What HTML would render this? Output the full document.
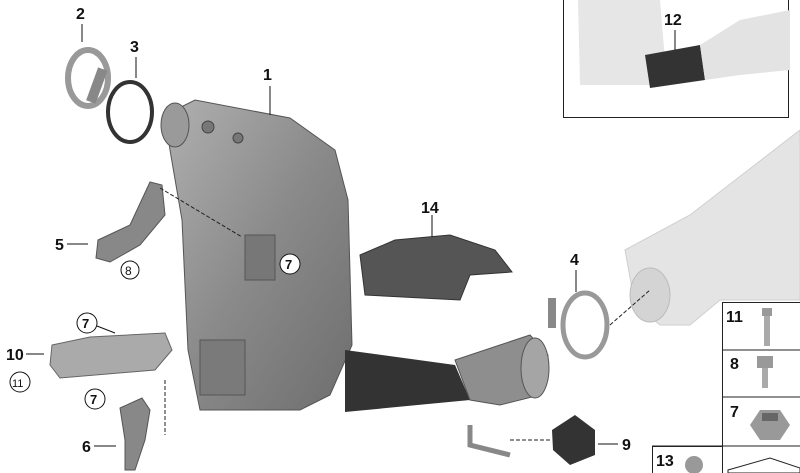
<!DOCTYPE html><html><head><style>body{margin:0;background:#fff}svg{display:block}text{font-family:"Liberation Sans",sans-serif;font-weight:bold;fill:#111}</style></head><body>
<svg width="800" height="473" viewBox="0 0 800 473" xmlns="http://www.w3.org/2000/svg">
<defs><linearGradient id="g1" x1="0" y1="0" x2="1" y2="1"><stop offset="0" stop-color="#b0b0b0"/><stop offset=".5" stop-color="#8a8a8a"/><stop offset="1" stop-color="#6e6e6e"/></linearGradient></defs>
<!-- muffler -->
<path d="M625 250 L690 215 L800 130 L800 300 L720 300 L690 325 L660 325 L635 305 Z" fill="#e4e4e4" stroke="#cfcfcf"/>
<ellipse cx="650" cy="295" rx="20" ry="27" fill="#d4d4d4" stroke="#bbb"/>
<!-- inset -->
<rect x="563.5" y="-1" width="225" height="118.5" fill="#fff" stroke="#222"/>
<path d="M578 0 L660 0 L665 60 L650 85 L580 85 Z" fill="#e6e6e6"/>
<path d="M645 55 L700 45 L705 80 L650 88 Z" fill="#333"/>
<path d="M700 45 L740 20 L790 10 L790 70 L740 75 L705 80 Z" fill="#e3e3e3"/>
<line x1="675" y1="30" x2="675" y2="50" stroke="#111"/>
<text x="664" y="25" font-size="16">12</text>
<!-- main body -->
<path d="M165 115 L195 100 L290 118 L335 150 L348 200 L352 345 L330 395 L300 410 L200 410 L188 350 L182 220 L170 150 Z" fill="url(#g1)" stroke="#555"/>
<ellipse cx="175" cy="125" rx="14" ry="22" fill="#9a9a9a" stroke="#555"/>
<circle cx="208" cy="127" r="6" fill="#777" stroke="#444"/><circle cx="238" cy="138" r="5" fill="#777" stroke="#444"/>
<rect x="245" y="235" width="30" height="45" fill="#777" stroke="#555"/>
<rect x="200" y="340" width="45" height="55" fill="#7a7a7a" stroke="#555"/>
<!-- pipe -->
<path d="M345 350 L455 365 L470 400 L345 412 Z" fill="#333"/>
<path d="M455 360 L500 345 L530 335 L548 355 L540 395 L500 405 L470 400 Z" fill="#8e8e8e" stroke="#555"/>
<ellipse cx="535" cy="368" rx="14" ry="30" fill="#a5a5a5" stroke="#555"/>
<path d="M470 425 L470 445 L510 455" stroke="#888" stroke-width="5" fill="none"/>
<!-- 14 shield -->
<path d="M360 255 L395 240 L450 235 L495 250 L512 272 L470 275 L460 300 L365 295 Z" fill="#555" stroke="#333"/>
<line x1="432" y1="215" x2="432" y2="237" stroke="#111"/><text x="421" y="213" font-size="16">14</text>
<!-- clamp 2,3 -->
<ellipse cx="88" cy="78" rx="20" ry="28" fill="none" stroke="#999" stroke-width="6"/>
<rect x="92" y="68" width="10" height="35" fill="#888" transform="rotate(20 97 85)"/>
<ellipse cx="130" cy="112" rx="22" ry="30" fill="none" stroke="#333" stroke-width="4"/>
<text x="76" y="19" font-size="16">2</text><line x1="82" y1="24" x2="82" y2="42" stroke="#111"/>
<text x="130" y="52" font-size="16">3</text><line x1="136" y1="57" x2="136" y2="78" stroke="#111"/>
<text x="263" y="80" font-size="16">1</text><line x1="270" y1="86" x2="270" y2="115" stroke="#111"/>
<!-- bracket 5 -->
<path d="M150 182 L162 185 L165 215 L140 245 L110 262 L96 258 L98 240 L130 225 Z" fill="#888" stroke="#555"/>
<text x="55" y="250" font-size="16">5</text><line x1="67" y1="244" x2="88" y2="244" stroke="#111"/>
<circle cx="130" cy="270" r="9" fill="#fff" stroke="#111"/><text x="125" y="275" font-size="12" style="font-weight:normal">8</text>
<line x1="160" y1="188" x2="242" y2="237" stroke="#222" stroke-dasharray="4 2"/>
<circle cx="290" cy="264" r="10" fill="#fff" stroke="#111"/><text x="285" y="269" font-size="13">7</text>
<!-- 10 cover -->
<path d="M52 345 L90 337 L165 333 L172 350 L155 370 L60 378 L50 365 Z" fill="#aaa" stroke="#666"/>
<text x="6" y="360" font-size="16">10</text><line x1="26" y1="354" x2="44" y2="354" stroke="#111"/>
<circle cx="20" cy="382" r="10" fill="#fff" stroke="#111"/><text x="12" y="387" font-size="11" style="font-weight:normal">11</text>
<circle cx="87" cy="323" r="10" fill="#fff" stroke="#111"/><text x="82" y="328" font-size="13">7</text>
<line x1="97" y1="326" x2="115" y2="333" stroke="#111"/>
<line x1="165" y1="380" x2="165" y2="435" stroke="#222" stroke-dasharray="4 2"/>
<!-- bracket 6 -->
<path d="M120 408 L142 398 L150 410 L145 440 L135 470 L125 470 L125 440 Z" fill="#888" stroke="#555"/>
<circle cx="95" cy="399" r="10" fill="#fff" stroke="#111"/><text x="90" y="404" font-size="13">7</text>
<text x="82" y="452" font-size="16">6</text><line x1="94" y1="446" x2="116" y2="446" stroke="#111"/>
<!-- 4 clamp -->
<ellipse cx="585" cy="325" rx="22" ry="32" fill="none" stroke="#999" stroke-width="5"/>
<rect x="548" y="298" width="8" height="30" fill="#888"/>
<text x="570" y="265" font-size="16">4</text><line x1="576" y1="270" x2="576" y2="292" stroke="#111"/>
<line x1="610" y1="325" x2="650" y2="290" stroke="#222" stroke-dasharray="4 2"/>
<!-- 9 -->
<path d="M552 430 L575 415 L595 430 L595 455 L570 465 L553 450 Z" fill="#333"/>
<text x="622" y="450" font-size="16">9</text><line x1="598" y1="444" x2="618" y2="444" stroke="#111"/>
<line x1="510" y1="440" x2="552" y2="440" stroke="#222" stroke-dasharray="4 2"/>
<!-- right panel -->
<rect x="722.5" y="302.5" width="78" height="172" fill="#fff" stroke="#222"/>
<line x1="722" y1="350" x2="800" y2="350" stroke="#222"/><line x1="722" y1="397" x2="800" y2="397" stroke="#222"/><line x1="652" y1="446" x2="800" y2="446" stroke="#222"/>
<rect x="652.5" y="446.5" width="70" height="30" fill="#fff" stroke="#222"/>
<text x="726" y="322" font-size="16">11</text><rect x="762" y="308" width="10" height="8" fill="#999"/><rect x="764" y="316" width="6" height="30" fill="#aaa"/>
<text x="730" y="369" font-size="16">8</text><rect x="757" y="356" width="16" height="12" fill="#999"/><rect x="762" y="368" width="6" height="20" fill="#aaa"/>
<text x="730" y="417" font-size="16">7</text><path d="M750 425 L760 410 L780 410 L790 425 L780 440 L760 440 Z" fill="#999"/><rect x="762" y="413" width="16" height="8" fill="#666"/>
<text x="656" y="466" font-size="16">13</text><circle cx="694" cy="465" r="9" fill="#999"/>
<path d="M728 470 L770 458 L800 468 L800 473 L728 473 Z" fill="#fff" stroke="#222"/>
</svg></body></html>
